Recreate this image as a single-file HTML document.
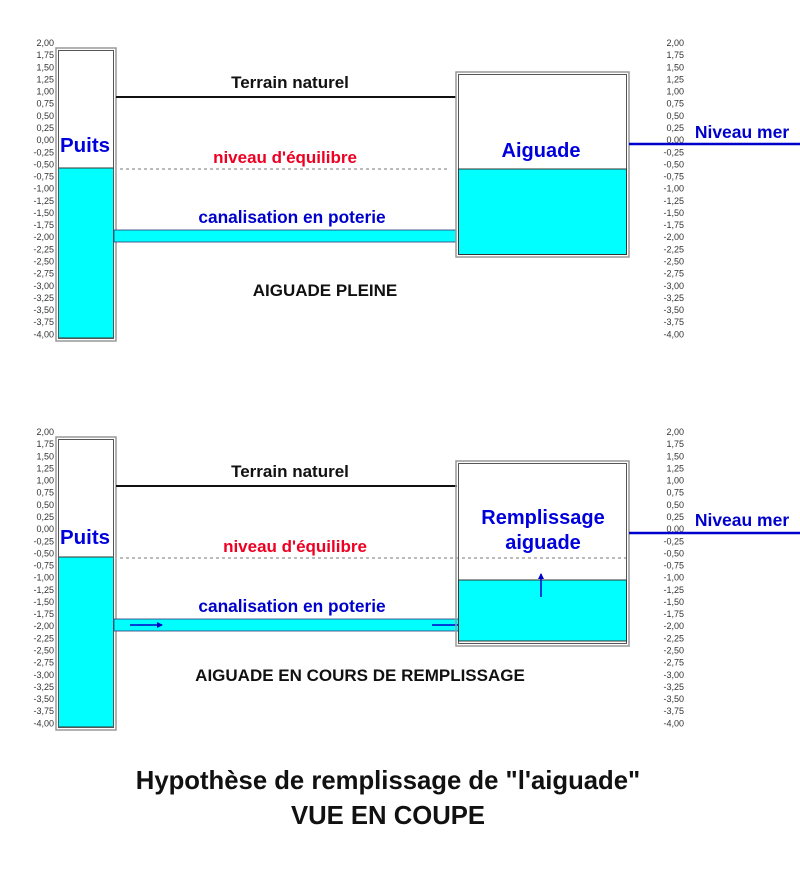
<!DOCTYPE html>
<html><head><meta charset="utf-8"><style>
html,body{margin:0;padding:0;background:#fff;}
svg{display:block;}
.sc{font-family:"Liberation Sans",sans-serif;font-size:9px;fill:#333;}
.b{font-family:"Liberation Sans",sans-serif;font-weight:bold;}
</style></head><body>
<svg width="800" height="874" viewBox="0 0 800 874" xmlns="http://www.w3.org/2000/svg">
<defs>
<marker id="ah" markerWidth="6" markerHeight="6" refX="5" refY="3" orient="auto" markerUnits="userSpaceOnUse"><path d="M0,0 L6,3 L0,6 z" fill="#0000cc"/></marker>
</defs>
<g id="top">
<text class="sc" text-anchor="end"><tspan x="54" y="46">2,00</tspan><tspan x="54" dy="12.14">1,75</tspan><tspan x="54" dy="12.14">1,50</tspan><tspan x="54" dy="12.14">1,25</tspan><tspan x="54" dy="12.14">1,00</tspan><tspan x="54" dy="12.14">0,75</tspan><tspan x="54" dy="12.14">0,50</tspan><tspan x="54" dy="12.14">0,25</tspan><tspan x="54" dy="12.14">0,00</tspan><tspan x="54" dy="12.14">-0,25</tspan><tspan x="54" dy="12.14">-0,50</tspan><tspan x="54" dy="12.14">-0,75</tspan><tspan x="54" dy="12.14">-1,00</tspan><tspan x="54" dy="12.14">-1,25</tspan><tspan x="54" dy="12.14">-1,50</tspan><tspan x="54" dy="12.14">-1,75</tspan><tspan x="54" dy="12.14">-2,00</tspan><tspan x="54" dy="12.14">-2,25</tspan><tspan x="54" dy="12.14">-2,50</tspan><tspan x="54" dy="12.14">-2,75</tspan><tspan x="54" dy="12.14">-3,00</tspan><tspan x="54" dy="12.14">-3,25</tspan><tspan x="54" dy="12.14">-3,50</tspan><tspan x="54" dy="12.14">-3,75</tspan><tspan x="54" dy="12.14">-4,00</tspan></text>
<text class="sc" text-anchor="end"><tspan x="684" y="46">2,00</tspan><tspan x="684" dy="12.14">1,75</tspan><tspan x="684" dy="12.14">1,50</tspan><tspan x="684" dy="12.14">1,25</tspan><tspan x="684" dy="12.14">1,00</tspan><tspan x="684" dy="12.14">0,75</tspan><tspan x="684" dy="12.14">0,50</tspan><tspan x="684" dy="12.14">0,25</tspan><tspan x="684" dy="12.14">0,00</tspan><tspan x="684" dy="12.14">-0,25</tspan><tspan x="684" dy="12.14">-0,50</tspan><tspan x="684" dy="12.14">-0,75</tspan><tspan x="684" dy="12.14">-1,00</tspan><tspan x="684" dy="12.14">-1,25</tspan><tspan x="684" dy="12.14">-1,50</tspan><tspan x="684" dy="12.14">-1,75</tspan><tspan x="684" dy="12.14">-2,00</tspan><tspan x="684" dy="12.14">-2,25</tspan><tspan x="684" dy="12.14">-2,50</tspan><tspan x="684" dy="12.14">-2,75</tspan><tspan x="684" dy="12.14">-3,00</tspan><tspan x="684" dy="12.14">-3,25</tspan><tspan x="684" dy="12.14">-3,50</tspan><tspan x="684" dy="12.14">-3,75</tspan><tspan x="684" dy="12.14">-4,00</tspan></text>
<rect x="56" y="48" width="60" height="293" fill="#fff" stroke="#999" stroke-width="1.5"/>
<rect x="58.5" y="168" width="55" height="170" fill="#00ffff" stroke="#333" stroke-width="1"/>
<rect x="58.5" y="50.5" width="55" height="288" fill="none" stroke="#555" stroke-width="1"/>
<text class="b" x="85" y="152" font-size="20.5" fill="#0000dd" text-anchor="middle">Puits</text>
<line x1="116" y1="97" x2="457" y2="97" stroke="#111" stroke-width="2"/>
<text class="b" x="290" y="88" font-size="17" fill="#111" text-anchor="middle">Terrain naturel</text>
<line x1="120" y1="169" x2="450" y2="169" stroke="#777" stroke-width="1" stroke-dasharray="3,3"/>
<text class="b" x="285" y="163" font-size="17" fill="#ee0022" text-anchor="middle">niveau d'équilibre</text>
<rect x="114" y="230" width="345" height="12" fill="#00ffff" stroke="#337" stroke-width="0.8"/>
<text class="b" x="292" y="223" font-size="17.3" fill="#0000cc" text-anchor="middle">canalisation en poterie</text>
<rect x="456" y="72" width="173" height="185" fill="#fff" stroke="#999" stroke-width="1.5"/>
<rect x="458.5" y="74.5" width="168" height="180" fill="none" stroke="#555" stroke-width="1"/>
<rect x="458.5" y="169" width="168" height="85.5" fill="#00ffff" stroke="#333" stroke-width="1"/>
<text class="b" x="541" y="157" font-size="20" fill="#0000dd" text-anchor="middle">Aiguade</text>
<line x1="629" y1="144" x2="800" y2="144" stroke="#0000cc" stroke-width="2.5"/>
<text class="b" x="742" y="138" font-size="17.5" fill="#0000cc" text-anchor="middle">Niveau mer</text>
<text class="b" x="325" y="296" font-size="17" fill="#111" text-anchor="middle">AIGUADE PLEINE</text>
</g>
<g transform="translate(0,389)">
<text class="sc" text-anchor="end"><tspan x="54" y="46">2,00</tspan><tspan x="54" dy="12.14">1,75</tspan><tspan x="54" dy="12.14">1,50</tspan><tspan x="54" dy="12.14">1,25</tspan><tspan x="54" dy="12.14">1,00</tspan><tspan x="54" dy="12.14">0,75</tspan><tspan x="54" dy="12.14">0,50</tspan><tspan x="54" dy="12.14">0,25</tspan><tspan x="54" dy="12.14">0,00</tspan><tspan x="54" dy="12.14">-0,25</tspan><tspan x="54" dy="12.14">-0,50</tspan><tspan x="54" dy="12.14">-0,75</tspan><tspan x="54" dy="12.14">-1,00</tspan><tspan x="54" dy="12.14">-1,25</tspan><tspan x="54" dy="12.14">-1,50</tspan><tspan x="54" dy="12.14">-1,75</tspan><tspan x="54" dy="12.14">-2,00</tspan><tspan x="54" dy="12.14">-2,25</tspan><tspan x="54" dy="12.14">-2,50</tspan><tspan x="54" dy="12.14">-2,75</tspan><tspan x="54" dy="12.14">-3,00</tspan><tspan x="54" dy="12.14">-3,25</tspan><tspan x="54" dy="12.14">-3,50</tspan><tspan x="54" dy="12.14">-3,75</tspan><tspan x="54" dy="12.14">-4,00</tspan></text>
<text class="sc" text-anchor="end"><tspan x="684" y="46">2,00</tspan><tspan x="684" dy="12.14">1,75</tspan><tspan x="684" dy="12.14">1,50</tspan><tspan x="684" dy="12.14">1,25</tspan><tspan x="684" dy="12.14">1,00</tspan><tspan x="684" dy="12.14">0,75</tspan><tspan x="684" dy="12.14">0,50</tspan><tspan x="684" dy="12.14">0,25</tspan><tspan x="684" dy="12.14">0,00</tspan><tspan x="684" dy="12.14">-0,25</tspan><tspan x="684" dy="12.14">-0,50</tspan><tspan x="684" dy="12.14">-0,75</tspan><tspan x="684" dy="12.14">-1,00</tspan><tspan x="684" dy="12.14">-1,25</tspan><tspan x="684" dy="12.14">-1,50</tspan><tspan x="684" dy="12.14">-1,75</tspan><tspan x="684" dy="12.14">-2,00</tspan><tspan x="684" dy="12.14">-2,25</tspan><tspan x="684" dy="12.14">-2,50</tspan><tspan x="684" dy="12.14">-2,75</tspan><tspan x="684" dy="12.14">-3,00</tspan><tspan x="684" dy="12.14">-3,25</tspan><tspan x="684" dy="12.14">-3,50</tspan><tspan x="684" dy="12.14">-3,75</tspan><tspan x="684" dy="12.14">-4,00</tspan></text>
<rect x="56" y="48" width="60" height="293" fill="#fff" stroke="#999" stroke-width="1.5"/>
<rect x="58.5" y="168" width="55" height="170" fill="#00ffff" stroke="#333" stroke-width="1"/>
<rect x="58.5" y="50.5" width="55" height="288" fill="none" stroke="#555" stroke-width="1"/>
<text class="b" x="85" y="155" font-size="20.5" fill="#0000dd" text-anchor="middle">Puits</text>
<line x1="116" y1="97" x2="457" y2="97" stroke="#111" stroke-width="2"/>
<text class="b" x="290" y="88" font-size="17" fill="#111" text-anchor="middle">Terrain naturel</text>
<line x1="120" y1="169" x2="626" y2="169" stroke="#777" stroke-width="1" stroke-dasharray="3,3"/>
<text class="b" x="295" y="163" font-size="17" fill="#ee0022" text-anchor="middle">niveau d'équilibre</text>
<rect x="114" y="230" width="345" height="12" fill="#00ffff" stroke="#337" stroke-width="0.8"/>
<text class="b" x="292" y="223" font-size="17.3" fill="#0000cc" text-anchor="middle">canalisation en poterie</text>
<line x1="130" y1="236" x2="162" y2="236" stroke="#0000cc" stroke-width="1.5" marker-end="url(#ah)"/>
<line x1="432" y1="236" x2="466" y2="236" stroke="#0000cc" stroke-width="1.5" marker-end="url(#ah)"/>
<rect x="456" y="72" width="173" height="185" fill="none" stroke="#999" stroke-width="1.5"/>
<rect x="458.5" y="74.5" width="168" height="180" fill="none" stroke="#555" stroke-width="1"/>
<rect x="458.5" y="191" width="168" height="61" fill="#00ffff" stroke="#333" stroke-width="1"/>
<line x1="541" y1="208" x2="541" y2="185" stroke="#0000cc" stroke-width="1.5" marker-end="url(#ah)"/>
<text class="b" x="543" y="135" font-size="20" fill="#0000dd" text-anchor="middle">Remplissage</text>
<text class="b" x="543" y="160" font-size="20" fill="#0000dd" text-anchor="middle">aiguade</text>
<line x1="629" y1="144" x2="800" y2="144" stroke="#0000cc" stroke-width="2.5"/>
<text class="b" x="742" y="137" font-size="17.5" fill="#0000cc" text-anchor="middle">Niveau mer</text>
<text class="b" x="360" y="292" font-size="17" fill="#111" text-anchor="middle">AIGUADE EN COURS DE REMPLISSAGE</text>
</g>
<text class="b" x="388" y="789" font-size="25.7" fill="#111" text-anchor="middle">Hypothèse de remplissage de "l'aiguade"</text>
<text class="b" x="388" y="824" font-size="25.7" fill="#111" text-anchor="middle">VUE EN COUPE</text>
</svg>
</body></html>
